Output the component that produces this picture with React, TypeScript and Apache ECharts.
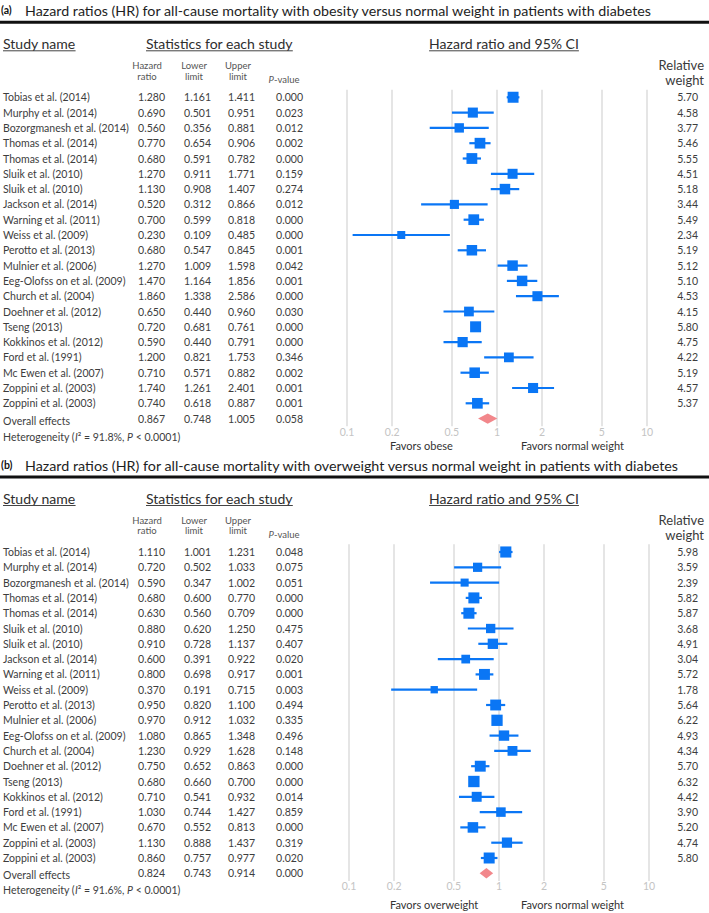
import React, { useEffect, useRef } from "react";
import * as echarts from "echarts";

// ---------------- data ----------------
const STUDIES = [
  "Tobias et al. (2014)",
  "Murphy et al. (2014)",
  "Bozorgmanesh et al. (2014)",
  "Thomas et al. (2014)",
  "Thomas et al. (2014)",
  "Sluik et al. (2010)",
  "Sluik et al. (2010)",
  "Jackson et al. (2014)",
  "Warning et al. (2011)",
  "Weiss et al. (2009)",
  "Perotto et al. (2013)",
  "Mulnier et al. (2006)",
  "Eeg-Olofss on et al. (2009)",
  "Church et al. (2004)",
  "Doehner et al. (2012)",
  "Tseng (2013)",
  "Kokkinos et al. (2012)",
  "Ford et al. (1991)",
  "Mc Ewen et al. (2007)",
  "Zoppini et al. (2003)",
  "Zoppini et al. (2003)",
];
const OVERALL_LABEL = "Overall effects";

const A_HR = [1.28, 0.69, 0.56, 0.77, 0.68, 1.27, 1.13, 0.52, 0.7, 0.23, 0.68, 1.27, 1.47, 1.86, 0.65, 0.72, 0.59, 1.2, 0.71, 1.74, 0.74];
const A_LO = [1.161, 0.501, 0.356, 0.654, 0.591, 0.911, 0.908, 0.312, 0.599, 0.109, 0.547, 1.009, 1.164, 1.338, 0.44, 0.681, 0.44, 0.821, 0.571, 1.261, 0.618];
const A_HI = [1.411, 0.951, 0.881, 0.906, 0.782, 1.771, 1.407, 0.866, 0.818, 0.485, 0.845, 1.598, 1.856, 2.586, 0.96, 0.761, 0.791, 1.753, 0.882, 2.401, 0.887];
const A_P = [0.0, 0.023, 0.012, 0.002, 0.0, 0.159, 0.274, 0.012, 0.0, 0.0, 0.001, 0.042, 0.001, 0.0, 0.03, 0.0, 0.0, 0.346, 0.002, 0.001, 0.001];
const A_W = [5.7, 4.58, 3.77, 5.46, 5.55, 4.51, 5.18, 3.44, 5.49, 2.34, 5.19, 5.12, 5.1, 4.53, 4.15, 5.8, 4.75, 4.22, 5.19, 4.57, 5.37];
const A_OVERALL = [0.867, 0.748, 1.005, 0.058];

const B_HR = [1.11, 0.72, 0.59, 0.68, 0.63, 0.88, 0.91, 0.6, 0.8, 0.37, 0.95, 0.97, 1.08, 1.23, 0.75, 0.68, 0.71, 1.03, 0.67, 1.13, 0.86];
const B_LO = [1.001, 0.502, 0.347, 0.6, 0.56, 0.62, 0.728, 0.391, 0.698, 0.191, 0.82, 0.912, 0.865, 0.929, 0.652, 0.66, 0.541, 0.744, 0.552, 0.888, 0.757];
const B_HI = [1.231, 1.033, 1.002, 0.77, 0.709, 1.25, 1.137, 0.922, 0.917, 0.715, 1.1, 1.032, 1.348, 1.628, 0.863, 0.7, 0.932, 1.427, 0.813, 1.437, 0.977];
const B_P = [0.048, 0.075, 0.051, 0.0, 0.0, 0.475, 0.407, 0.02, 0.001, 0.003, 0.494, 0.335, 0.496, 0.148, 0.0, 0.0, 0.014, 0.859, 0.0, 0.319, 0.02];
const B_W = [5.98, 3.59, 2.39, 5.82, 5.87, 3.68, 4.91, 3.04, 5.72, 1.78, 5.64, 6.22, 4.93, 4.34, 5.7, 6.32, 4.42, 3.9, 5.2, 4.74, 5.8];
const B_OVERALL = [0.824, 0.743, 0.914, 0.0];

const TICKS = [0.1, 0.2, 0.5, 1, 2, 5, 10];

const TITLE_A = "Hazard ratios (HR) for all-cause mortality with obesity versus normal weight in patients with diabetes";
const TITLE_B = "Hazard ratios (HR) for all-cause mortality with overweight versus normal weight in patients with diabetes";
const HET_A = ["91.8%", "0.0001"];
const HET_B = ["91.6%", "0.0001"];
const FAVORS_A = ["Favors obese", "Favors normal weight"];
const FAVORS_B = ["Favors overweight", "Favors normal weight"];

// ---------------- styles / layout ----------------
const FONT = "Lato, 'Open Sans', sans-serif";
const BLUE = "#0a76f5";
const PINK = "#f2878b";
const TEXT = "#3d3d3d";
const ROW_H = 15.3;

const PANELS = [
  { tag: "(a)", title: TITLE_A, titleEnd: 654, base: 97.3, left: 347, hr: A_HR, lo: A_LO, hi: A_HI, p: A_P, w: A_W, overall: A_OVERALL, het: HET_A, favors: FAVORS_A, favorsDy: 348, hetDy: 339.4 },
  { tag: "(b)", title: TITLE_B, titleEnd: 680, base: 552, left: 349, hr: B_HR, lo: B_LO, hi: B_HI, p: B_P, w: B_W, overall: B_OVERALL, het: HET_B, favors: FAVORS_B, favorsDy: 352, hetDy: 338 },
];

let _ctx: CanvasRenderingContext2D | null = null;
function measure(text: string, size: number, weight = "normal") {
  if (!_ctx) _ctx = document.createElement("canvas").getContext("2d");
  _ctx!.font = `${weight} ${size}px Lato`;
  return _ctx!.measureText(text).width;
}
function fitSize(text: string, target: number, base: number, weight = "normal") {
  return (base * target) / measure(text, base, weight);
}

const TICK_POS = TICKS.map((t) => Math.log10(t));
function fmtTick(v: number) {
  const t = TICKS.find((t) => Math.abs(Math.log10(t) - v) < 1e-6);
  return t === undefined ? "" : String(t);
}

function renderItem(params: any, api: any) {
  const row = api.value(1);
  const c = api.coord([api.value(0), row]);
  const l = api.coord([api.value(2), row]);
  const h = api.coord([api.value(3), row]);
  const w = api.value(4);
  if (w < 0) {
    return {
      type: "polygon",
      shape: { points: [[l[0], c[1]], [c[0], c[1] - 5.2], [h[0], c[1]], [c[0], c[1] + 5.2]] },
      style: { fill: PINK },
    };
  }
  const s = 2.8 + 3.4 * Math.sqrt(w);
  return {
    type: "group",
    children: [
      { type: "line", shape: { x1: l[0], y1: c[1], x2: h[0], y2: c[1] }, style: { stroke: BLUE, lineWidth: 2.2 } },
      { type: "rect", shape: { x: c[0] - s / 2, y: c[1] - s / 2, width: s, height: s }, style: { fill: BLUE } },
    ],
  };
}

function buildOption() {
  const grid: any[] = [];
  const xAxis: any[] = [];
  const yAxis: any[] = [];
  const series: any[] = [];
  const graphic: any[] = [];
  const nRows = STUDIES.length + 1;
  const tableSize = fitSize("Bozorgmanesh et al. (2014)", 126, 11);
  const headSize = fitSize("Statistics for each study", 147, 13.5);

  PANELS.forEach((P, i) => {
    const base = P.base;
    grid.push({ left: P.left, top: base - ROW_H / 2, width: 300, height: nRows * ROW_H, outerBoundsMode: "none", containLabel: false });
    xAxis.push({
      type: "value",
      gridIndex: i,
      min: -1,
      max: 1,
      axisLine: { show: false },
      axisTick: { show: false, customValues: TICK_POS },
      axisLabel: { customValues: TICK_POS, formatter: fmtTick, color: "#c4c4c4", fontSize: 10.5, fontFamily: FONT, margin: 0 },
      splitLine: { show: true, lineStyle: { color: "#dcdcdc", width: 1.5 } },
    });
    const cats = Array.from({ length: nRows }, (_, k) => String(k));
    const tok = { fontFamily: FONT, fontSize: tableSize, color: TEXT };
    yAxis.push({
      type: "category",
      gridIndex: i,
      data: cats,
      inverse: true,
      axisLine: { show: false },
      axisTick: { show: false },
      splitLine: { show: false },
      axisLabel: {
        interval: 0,
        align: "left",
        margin: P.left - 3,
        fontFamily: FONT,
        fontSize: tableSize,
        color: TEXT,
        formatter: (v: string) => {
          const k = Number(v);
          if (k < STUDIES.length) {
            return `{n|${STUDIES[k]}}{h|${P.hr[k].toFixed(3)}}{l|${P.lo[k].toFixed(3)}}{u|${P.hi[k].toFixed(3)}}{p|${P.p[k].toFixed(3)}}`;
          }
          const o = P.overall;
          return `{o|${OVERALL_LABEL}}{h|${o[0].toFixed(3)}}{l|${o[1].toFixed(3)}}{u|${o[2].toFixed(3)}}{p|${o[3].toFixed(3)}}`;
        },
        rich: {
          n: { ...tok, width: 128, align: "left" },
          o: { ...tok, width: 128, align: "left", padding: [4, 0, 0, 0] },
          h: { ...tok, width: 34, align: "right" },
          l: { ...tok, width: 46, align: "right" },
          u: { ...tok, width: 44, align: "right" },
          p: { ...tok, width: 48, align: "right" },
        },
      },
    });
    yAxis.push({
      type: "category",
      gridIndex: i,
      position: "right",
      data: cats,
      inverse: true,
      axisLine: { show: false },
      axisTick: { show: false },
      splitLine: { show: false },
      axisLabel: {
        interval: 0,
        align: "right",
        margin: 698 - (P.left + 300),
        fontFamily: FONT,
        fontSize: tableSize,
        color: TEXT,
        formatter: (v: string) => {
          const k = Number(v);
          return k < STUDIES.length ? P.w[k].toFixed(2) : "";
        },
      },
    });
    const data = P.hr.map((hr, k) => [Math.log10(hr), k, Math.log10(P.lo[k]), Math.log10(P.hi[k]), P.w[k]]);
    data.push([Math.log10(P.overall[0]), STUDIES.length, Math.log10(P.overall[1]), Math.log10(P.overall[2]), -1]);
    series.push({
      type: "custom",
      xAxisIndex: i,
      yAxisIndex: i * 2,
      clip: false,
      encode: { x: 0, y: 1 },
      renderItem,
      data,
    });

    // --- titles & headers ---
    const tSize = fitSize(P.title, P.titleEnd - 25, 14);
    graphic.push(
      { type: "text", x: 1, y: base - 87, style: { text: P.tag, fontFamily: FONT, fontWeight: "bold", fontSize: 10.5, fill: "#111", verticalAlign: "middle" } },
      { type: "text", x: 25, y: base - 87, style: { text: P.title, fontFamily: FONT, fontSize: tSize, fill: "#1e1e1e", verticalAlign: "middle" } },
      { type: "rect", shape: { x: 0, y: base - 76.5, width: 709, height: 3 }, style: { fill: "#111" } }
    );
    const heads: [string, number, string][] = [
      ["Study name", 3, "left"],
      ["Statistics for each study", 146, "left"],
      ["Hazard ratio and 95% CI", 504, "center"],
    ];
    heads.forEach(([t, x, al]) => {
      const wdt = measure(t, headSize);
      const x0 = al === "center" ? x - wdt / 2 : x;
      graphic.push(
        { type: "text", x, y: base - 54, style: { text: t, fontFamily: FONT, fontSize: headSize, fill: "#2e2e2e", align: al, verticalAlign: "middle" } },
        { type: "line", shape: { x1: x0, y1: base - 46.5, x2: x0 + wdt, y2: base - 46.5 }, style: { stroke: "#444", lineWidth: 1 } }
      );
    });
    const sub: [string, number][] = [
      ["Hazard\nratio", 147],
      ["Lower\nlimit", 194],
      ["Upper\nlimit", 238],
    ];
    sub.forEach(([t, x]) => {
      graphic.push({ type: "text", x, y: base - 26.5, style: { text: t, fontFamily: FONT, fontSize: 9.5, lineHeight: 10.5, fill: "#555", align: "center", verticalAlign: "middle" } });
    });
    graphic.push(
      {
        type: "text",
        x: 284,
        y: base - 18,
        style: {
          text: "{i|P}{n|-value}",
          align: "center",
          verticalAlign: "middle",
          rich: {
            i: { fontFamily: FONT, fontSize: 9.5, fontStyle: "italic", fill: "#555" },
            n: { fontFamily: FONT, fontSize: 9.5, fill: "#555" },
          },
        },
      },
      { type: "text", x: 704, y: base - 24.5, style: { text: "Relative\nweight", fontFamily: FONT, fontSize: 13, lineHeight: 15, fill: "#3a3a3a", align: "right", verticalAlign: "middle" } },
      { type: "text", x: 390, y: base + P.favorsDy, style: { text: P.favors[0], fontFamily: FONT, fontSize: 11, fill: "#333", verticalAlign: "middle" } },
      { type: "text", x: 521, y: base + P.favorsDy, style: { text: P.favors[1], fontFamily: FONT, fontSize: 11, fill: "#333", verticalAlign: "middle" } },
      {
        type: "text",
        x: 3,
        y: base + P.hetDy,
        style: {
          text: `{n|Heterogeneity (}{i|I}{n|² = ${P.het[0]}, }{i|P}{n| < ${P.het[1]})}`,
          verticalAlign: "middle",
          rich: {
            n: { fontFamily: FONT, fontSize: tableSize, fill: TEXT },
            i: { fontFamily: FONT, fontSize: tableSize, fontStyle: "italic", fill: TEXT },
          },
        },
      }
    );
  });

  return {
    animation: false,
    backgroundColor: "#ffffff",
    textStyle: { fontFamily: FONT },
    grid,
    xAxis,
    yAxis,
    series,
    graphic,
  };
}

export default function App() {
  const ref = useRef<HTMLDivElement>(null);
  useEffect(() => {
    const chart = echarts.init(ref.current!, null, { renderer: "svg" });
    chart.setOption(buildOption() as any);
    return () => chart.dispose();
  }, []);
  return <div ref={ref} style={{ position: "fixed", left: 0, top: 0, width: 709, height: 913, background: "#fff" }} />;
}
